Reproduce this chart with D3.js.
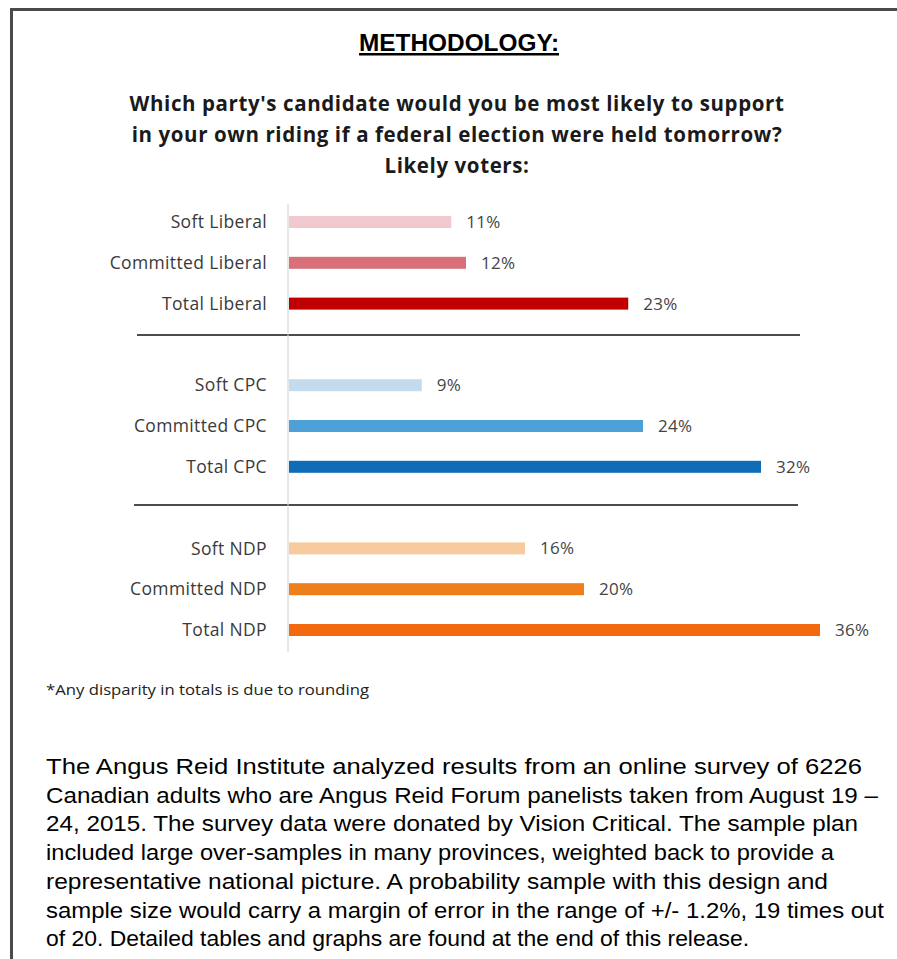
<!DOCTYPE html>
<html>
<head>
<meta charset="utf-8">
<script src="https://cdn.jsdelivr.net/npm/d3@7"></script>
<style>
  html, body { margin: 0; padding: 0; background: #fff; }
  svg { display: block; }
</style>
</head>
<body>
<svg id="chart" width="897" height="959"></svg>
<script>
// Vote intention among likely voters, by party and commitment level
const categories = [
  "Soft Liberal", "Committed Liberal", "Total Liberal",
  "Soft CPC", "Committed CPC", "Total CPC",
  "Soft NDP", "Committed NDP", "Total NDP"
];
const values = [11, 12, 23, 9, 24, 32, 16, 20, 36];
const barColors = [
  "#f1c8ce", "#d86f79", "#c00000",
  "#c3dbec", "#4ea0d8", "#0f6db8",
  "#f8caa0", "#ef7e1c", "#f2690f"
];
// each party occupies three rows, followed by an empty row for the divider
const rowSlots = [0, 1, 2, 4, 5, 6, 8, 9, 10];

const titleLines = [
  "Which party's candidate would you be most likely to support",
  "in your own riding if a federal election were held tomorrow?",
  "Likely voters:"
];
const footnote = "*Any disparity in totals is due to rounding";
const methodologyLines = [
  "The Angus Reid Institute analyzed results from an online survey of 6226",
  "Canadian adults who are Angus Reid Forum panelists taken from August 19 \u2013",
  "24, 2015. The survey data were donated by Vision Critical. The sample plan",
  "included large over-samples in many provinces, weighted back to provide a",
  "representative national picture. A probability sample with this design and",
  "sample size would carry a margin of error in the range of +/- 1.2%, 19 times out",
  "of 20. Detailed tables and graphs are found at the end of this release."
];
const methodologyWidths = [816, 832, 812, 788, 782, 838, 703];

const svg = d3.select("#chart");

// frame: top and left rules
svg.append("path")
  .attr("d", "M11.5,960 V9.5 H897")
  .attr("fill", "none")
  .attr("stroke", "#4a4a4a")
  .attr("stroke-width", 3);

// heading
svg.append("text")
  .attr("x", 459).attr("y", 51)
  .attr("text-anchor", "middle")
  .attr("font-family", "'Liberation Sans', Arial, sans-serif")
  .attr("font-weight", "bold")
  .attr("font-size", 23)
  .attr("textLength", 200)
  .attr("lengthAdjust", "spacingAndGlyphs")
  .attr("fill", "#000")
  .text("METHODOLOGY:");
svg.append("rect")
  .attr("x", 359).attr("y", 53)
  .attr("width", 200).attr("height", 2.5)
  .attr("fill", "#000");

// chart title
svg.append("g").selectAll("text")
  .data(titleLines)
  .join("text")
  .attr("x", 457)
  .attr("y", (d, i) => 111 + i * 31)
  .attr("text-anchor", "middle")
  .attr("font-family", "'Open Sans', sans-serif")
  .attr("font-weight", "bold")
  .attr("font-size", 20.5)
  .attr("letter-spacing", 0.6)
  .attr("fill", "#1a1a1a")
  .text(d => d);

// scales
const x = d3.scaleLinear().domain([0, 36]).range([289, 820]);
const y = d3.scalePoint().domain(d3.range(11)).range([222, 630]);
const barH = 12;

const rows = categories.map((c, i) => ({
  name: c, value: values[i], color: barColors[i], slot: rowSlots[i]
}));

// dividers between parties
svg.append("g").selectAll("line")
  .data([{ x1: 137, x2: 800, y: 335 }, { x1: 134, x2: 798, y: 505 }])
  .join("line")
  .attr("x1", d => d.x1).attr("x2", d => d.x2)
  .attr("y1", d => d.y).attr("y2", d => d.y)
  .attr("stroke", "#111").attr("stroke-width", 1.3);

// baseline axis
svg.append("line")
  .attr("x1", x(0) - 1).attr("x2", x(0) - 1)
  .attr("y1", 204).attr("y2", 652)
  .attr("stroke", "#d0d0d0").attr("stroke-width", 1);

// bars
svg.append("g").selectAll("rect")
  .data(rows)
  .join("rect")
  .attr("x", x(0))
  .attr("y", d => y(d.slot) - barH / 2)
  .attr("width", d => x(d.value) - x(0))
  .attr("height", barH)
  .attr("fill", d => d.color);

// category labels
svg.append("g").selectAll("text")
  .data(rows)
  .join("text")
  .attr("x", 267)
  .attr("y", d => y(d.slot))
  .attr("dy", "0.35em")
  .attr("text-anchor", "end")
  .attr("font-family", "'Open Sans', sans-serif")
  .attr("font-size", 17.5)
  .attr("letter-spacing", 0.35)
  .attr("fill", "#3a3a3a")
  .text(d => d.name);

// value labels
svg.append("g").selectAll("text")
  .data(rows)
  .join("text")
  .attr("x", d => x(d.value) + 15)
  .attr("y", d => y(d.slot))
  .attr("dy", "0.35em")
  .attr("font-family", "'Open Sans', sans-serif")
  .attr("font-size", 17)
  .attr("letter-spacing", 0.3)
  .attr("fill", "#444")
  .text(d => d.value + "%");

// footnote
svg.append("text")
  .attr("x", 46).attr("y", 695)
  .attr("font-family", "'Open Sans', sans-serif")
  .attr("font-size", 14.5)
  .attr("fill", "#222")
  .attr("textLength", 323)
  .attr("lengthAdjust", "spacingAndGlyphs")
  .text(footnote);

// methodology paragraph
svg.append("g").selectAll("text")
  .data(methodologyLines)
  .join("text")
  .attr("x", 46)
  .attr("y", (d, i) => 774 + i * 28.7)
  .attr("font-family", "'Liberation Sans', Arial, sans-serif")
  .attr("font-size", 22.5)
  .attr("fill", "#000")
  .attr("textLength", (d, i) => methodologyWidths[i])
  .attr("lengthAdjust", "spacingAndGlyphs")
  .text(d => d);
</script>
</body>
</html>
